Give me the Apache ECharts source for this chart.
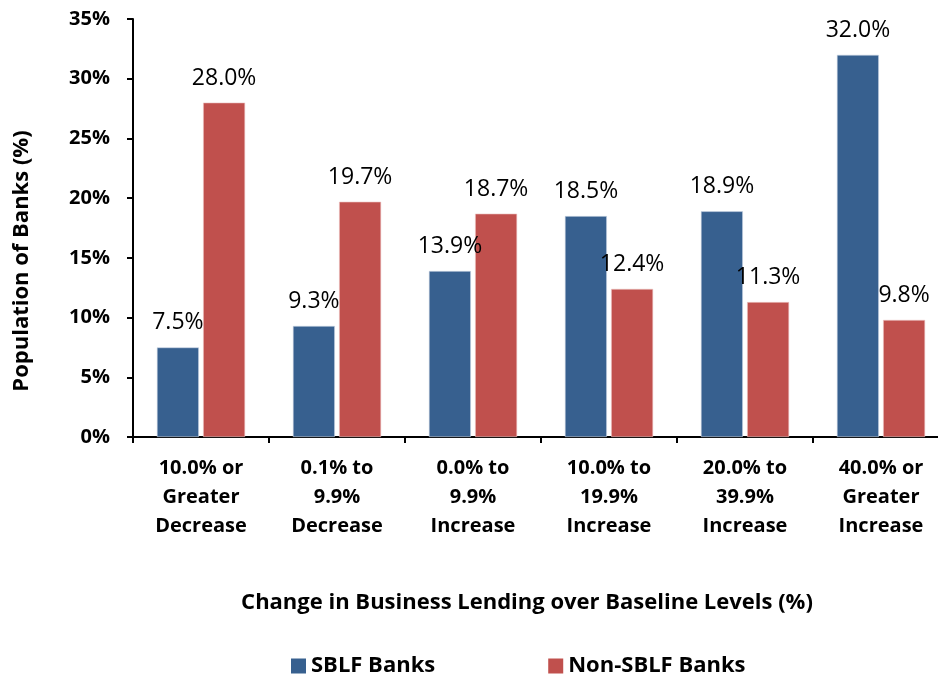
<!DOCTYPE html>
<html>
<head>
<meta charset="utf-8">
<script src="https://cdn.jsdelivr.net/npm/echarts@6/dist/echarts.min.js"></script>
<style>
  html, body { margin: 0; padding: 0; background: #fff; }
  #chart { width: 938px; height: 675px; }
</style>
</head>
<body>
<div id="chart"></div>
<script>
// Lending-change buckets and share of banks in each
const categories = [
  '10.0% or\nGreater\nDecrease',
  '0.1% to\n9.9%\nDecrease',
  '0.0% to\n9.9%\nIncrease',
  '10.0% to\n19.9%\nIncrease',
  '20.0% to\n39.9%\nIncrease',
  '40.0% or\nGreater\nIncrease'
];
const sblfBanks = [7.5, 9.3, 13.9, 18.5, 18.9, 32.0];
const nonSblfBanks = [28.0, 19.7, 18.7, 12.4, 11.3, 9.8];
const seriesNames = ['SBLF Banks', 'Non-SBLF Banks'];
const yTicks = [0, 5, 10, 15, 20, 25, 30, 35];

const FONT = '"Open Sans", "Liberation Sans", sans-serif';
const BLUE = '#37608F';
const RED = '#C0504D';

const chart = echarts.init(document.getElementById('chart'), null, { renderer: 'canvas' });

const labelStyle = {
  show: true,
  position: 'top',
  distance: 13,
  fontFamily: FONT,
  fontSize: 23,
  color: '#000',
  formatter: p => p.value.toFixed(1) + '%'
};

chart.setOption({
  animation: false,
  backgroundColor: '#fff',
  grid: { left: 133, top: 19, width: 816, height: 418, containLabel: false, outerBoundsMode: 'none' },
  legend: {
    data: seriesNames,
    left: 286,
    top: 650,
    itemWidth: 15,
    itemHeight: 15,
    itemGap: 113,
    icon: 'rect',
    itemStyle: { borderWidth: 0 },
    textStyle: { fontFamily: FONT, fontSize: 22, fontWeight: 'bold', color: '#000' }
  },
  xAxis: {
    type: 'category',
    data: categories,
    axisLine: { lineStyle: { color: '#000', width: 2 } },
    axisTick: { show: true, length: 6, alignWithLabel: false, lineStyle: { color: '#000', width: 2 } },
    axisLabel: {
      interval: 0,
      margin: 17,
      fontFamily: FONT,
      fontSize: 20,
      fontWeight: 'bold',
      color: '#000',
      lineHeight: 29
    },
    splitLine: { show: false }
  },
  yAxis: {
    type: 'value',
    min: yTicks[0],
    max: yTicks[yTicks.length - 1],
    interval: 5,
    axisLine: { show: true, lineStyle: { color: '#000', width: 2 } },
    axisTick: { show: true, length: 6, lineStyle: { color: '#000', width: 2 } },
    axisLabel: {
      margin: 23,
      fontFamily: FONT,
      fontSize: 20,
      fontWeight: 'bold',
      color: '#000',
      formatter: v => v + '%'
    },
    splitLine: { show: false }
  },
  graphic: [
    {
      type: 'text',
      x: 527,
      y: 603,
      style: {
        text: 'Change in Business Lending over Baseline Levels (%)',
        fontFamily: FONT, fontSize: 22, fontWeight: 'bold', fill: '#000',
        align: 'center', verticalAlign: 'middle'
      }
    },
    {
      type: 'text',
      x: 22,
      y: 261,
      rotation: Math.PI / 2,
      style: {
        text: 'Population of Banks (%)',
        fontFamily: FONT, fontSize: 22, fontWeight: 'bold', fill: '#000',
        align: 'center', verticalAlign: 'middle'
      }
    }
  ],
  series: [
    {
      name: seriesNames[0],
      type: 'bar',
      data: sblfBanks,
      barWidth: 42,
      barGap: '10%',
      itemStyle: { color: BLUE, borderColor: '#cfd8e6', borderWidth: 0.6 },
      label: labelStyle
    },
    {
      name: seriesNames[1],
      type: 'bar',
      data: nonSblfBanks,
      barWidth: 42,
      barGap: '10%',
      itemStyle: { color: RED, borderColor: '#ecc6c5', borderWidth: 0.6 },
      label: labelStyle
    }
  ]
});
</script>
</body>
</html>
